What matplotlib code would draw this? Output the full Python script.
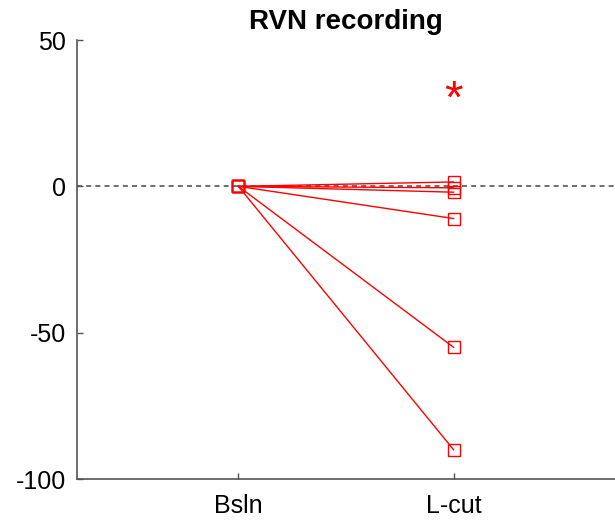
import matplotlib.pyplot as plt

plt.rcParams["font.family"] = ["Liberation Sans", "DejaVu Sans"]
plt.rcParams["axes.unicode_minus"] = False

# data
conditions = ["Bsln", "L-cut"]
bsln = [0, 0, 0, 0, 0, 0]
lcut = [1.5, -0.5, -2.0, -11, -55, -90]
star_y = 32
yticks = [-100, -50, 0, 50]

fig = plt.figure(figsize=(6.15, 5.23), dpi=100)
ax = fig.add_axes([0.1252, 0.0841, 0.8748, 0.8394])

xpos = [1, 2]

# zero line
ax.axhline(0, color="#555555", lw=1.2, ls=(0, (3, 2.5)), zorder=1)

# paired lines, one per subject
for b, l in zip(bsln, lcut):
    ax.plot(xpos, [b, l], color="red", lw=1, marker="s", markersize=8.5,
            markerfacecolor="none", markeredgecolor="red", markeredgewidth=1,
            zorder=3)

# significance mark
ax.annotate("*", (xpos[1], star_y), xytext=(0, -6), textcoords="offset points",
            color="red", fontsize=34, ha="center", va="center")

ax.set_xlim(0.25, 2.75)
ax.set_ylim(-100, 50)
ax.set_xticks(xpos)
ax.set_xticklabels(conditions)
ax.set_yticks(yticks)
ax.tick_params(direction="in", length=4, width=1, color="#555555",
               labelsize=18)
ax.tick_params(axis="x", pad=11)
ax.tick_params(axis="y", pad=8)

for side in ["top", "right"]:
    ax.spines[side].set_visible(False)
for side in ["left", "bottom"]:
    ax.spines[side].set_color("#555555")
    ax.spines[side].set_linewidth(1.2)

ax.set_title("RVN recording", fontsize=20, fontweight="bold", pad=8)

fig.savefig("out.png", dpi=100)
